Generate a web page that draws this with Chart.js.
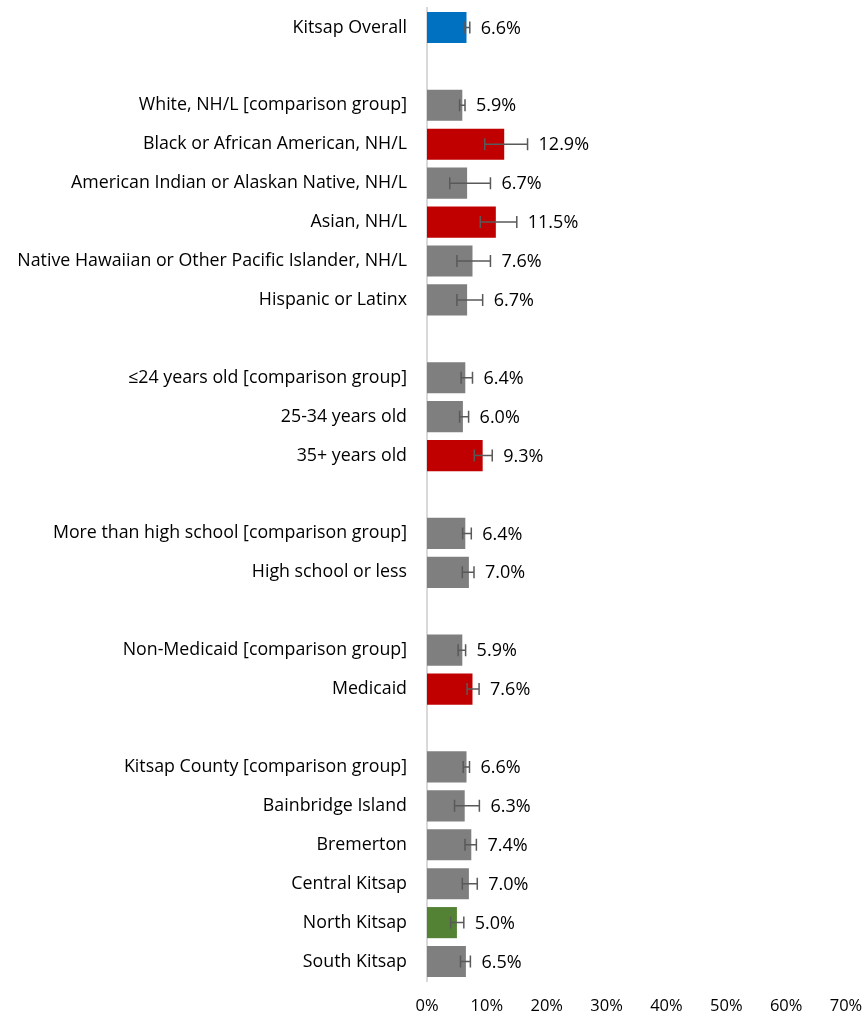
<!DOCTYPE html>
<html>
<head>
<meta charset="utf-8">
<script src="https://cdn.jsdelivr.net/npm/chart.js@4"></script>
<style>
html,body{margin:0;padding:0;background:#fff;}
#wrap{width:867px;height:1016px;position:relative;}
</style>
</head>
<body>
<div id="wrap"><canvas id="c" width="867" height="1016"></canvas></div>
<script>
const categories = [
  "Kitsap Overall", "",
  "White, NH/L [comparison group]",
  "Black or African American, NH/L",
  "American Indian or Alaskan Native, NH/L",
  "Asian, NH/L",
  "Native Hawaiian or Other Pacific Islander, NH/L",
  "Hispanic or Latinx", " ",
  "\u226424 years old [comparison group]",
  "25-34 years old",
  "35+ years old", "  ",
  "More than high school [comparison group]",
  "High school or less", "   ",
  "Non-Medicaid [comparison group]",
  "Medicaid", "    ",
  "Kitsap County [comparison group]",
  "Bainbridge Island",
  "Bremerton",
  "Central Kitsap",
  "North Kitsap",
  "South Kitsap"
];
const values = [6.6, null, 5.9, 12.9, 6.7, 11.5, 7.6, 6.7, null, 6.4, 6.0, 9.3, null, 6.4, 7.0, null, 5.9, 7.6, null, 6.6, 6.3, 7.4, 7.0, 5.0, 6.5];
const ciLow  = [6.2, null, 5.45, 9.65, 3.8, 8.9, 5.0, 5.0, null, 5.7, 5.45, 7.9, null, 5.95, 5.9, null, 5.2, 6.7, null, 6.05, 4.6, 6.35, 5.9, 3.95, 5.6];
const ciHigh = [7.15, null, 6.35, 16.8, 10.6, 15.0, 10.6, 9.3, null, 7.6, 6.95, 10.9, null, 7.4, 7.85, null, 6.45, 8.7, null, 7.1, 8.75, 8.25, 8.4, 6.15, 7.25];
const barGroups = ["overall", "", "comp", "worse", "same", "worse", "same", "same", "", "comp", "same", "worse", "", "comp", "same", "", "comp", "worse", "", "comp", "same", "same", "same", "better", "same"];
const xTicks = [0, 10, 20, 30, 40, 50, 60, 70];

const groupColors = {overall: "#0070C0", comp: "#7F7F7F", same: "#7F7F7F", worse: "#C00000", better: "#548235", "": "#7F7F7F"};
const FONT = "'Open Sans', sans-serif";

const errorBarsPlugin = {
  id: "errbars",
  afterDatasetsDraw(chart) {
    const ctx = chart.ctx;
    const xs = chart.scales.x, ys = chart.scales.y;
    ctx.save();
    ctx.strokeStyle = "#595959";
    ctx.lineWidth = 1.5;
    ctx.font = "18px " + FONT;
    for (let i = 0; i < values.length; i++) {
      if (values[i] == null) continue;
      const y = ys.getPixelForValue(i);
      const x1 = xs.getPixelForValue(ciLow[i]);
      const x2 = xs.getPixelForValue(ciHigh[i]);
      ctx.beginPath();
      ctx.moveTo(x1, y); ctx.lineTo(x2, y);
      ctx.moveTo(x1, y - 6); ctx.lineTo(x1, y + 6);
      ctx.moveTo(x2, y - 6); ctx.lineTo(x2, y + 6);
      ctx.stroke();
      ctx.fillStyle = "#000";
      ctx.textAlign = "left";
      ctx.textBaseline = "middle";
      ctx.fillText(values[i].toFixed(1) + "%", x2 + 11, y + 1);
    }
    ctx.restore();
  }
};

new Chart(document.getElementById("c"), {
  type: "bar",
  data: {
    labels: categories,
    datasets: [{
      data: values,
      backgroundColor: barGroups.map(g => groupColors[g]),
      borderWidth: 0,
      barPercentage: 0.8,
      categoryPercentage: 1.0
    }]
  },
  options: {
    indexAxis: "y",
    responsive: false,
    animation: false,
    layout: {padding: {left: 0, right: 21, top: 8, bottom: 0}},
    plugins: {legend: {display: false}, tooltip: {enabled: false}},
    scales: {
      x: {
        min: 0, max: 70,
        afterBuildTicks(scale) { scale.ticks = xTicks.map(v => ({value: v})); },
        afterFit(scale) { scale.height = 35; scale.paddingLeft = 0; scale.paddingRight = 0; },
        grid: {display: false},
        border: {display: false},
        ticks: {
          callback: v => v + "%",
          color: "#000",
          font: {family: FONT, size: 16.5},
          padding: 7,
          maxRotation: 0
        }
      },
      y: {
        afterFit(scale) { scale.width = 427; scale.paddingTop = 0; scale.paddingBottom = 0; },
        grid: {display: false},
        border: {display: true, color: "#D9D9D9", width: 2},
        ticks: {
          color: "#000",
          font: {family: FONT, size: 17.8},
          padding: 12,
          autoSkip: false
        }
      }
    }
  },
  plugins: [errorBarsPlugin]
});
</script>
</body>
</html>
